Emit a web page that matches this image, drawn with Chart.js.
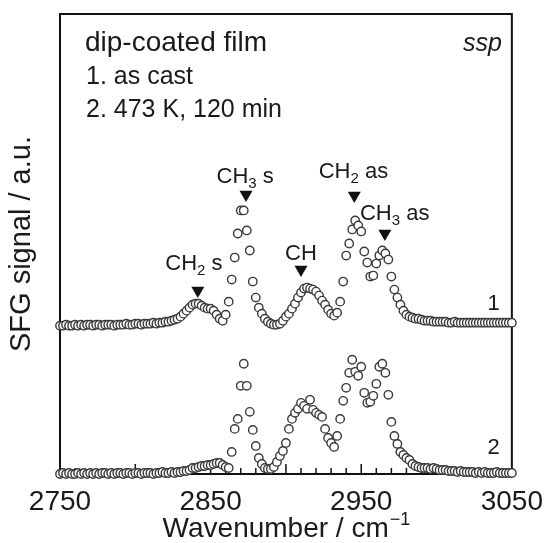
<!DOCTYPE html>
<html>
<head>
<meta charset="utf-8">
<script src="https://cdn.jsdelivr.net/npm/chart.js@4.4.1/dist/chart.umd.min.js"></script>
<style>
  html, body { margin: 0; padding: 0; background: #fff; }
</style>
</head>
<body>
<canvas id="sfg" width="554" height="543"></canvas>
<script>
// wavenumber grid (cm-1)
const wavenumbers = [
  2750, 2752, 2754, 2756, 2758, 2760, 2762, 2764, 2766, 2768,
  2770, 2772, 2774, 2776, 2778, 2780, 2782, 2784, 2786, 2788,
  2790, 2792, 2794, 2796, 2798, 2800, 2802, 2804, 2806, 2808,
  2810, 2812, 2814, 2816, 2818, 2820, 2822, 2824, 2826, 2828,
  2830, 2832, 2834, 2836, 2838, 2840, 2842, 2844, 2846, 2848,
  2850, 2852, 2854, 2856, 2858, 2860, 2862, 2864, 2866, 2868,
  2870, 2872, 2874, 2876, 2878, 2880, 2882, 2884, 2886, 2888,
  2890, 2892, 2894, 2896, 2898, 2900, 2902, 2904, 2906, 2908,
  2910, 2912, 2914, 2916, 2918, 2920, 2922, 2924, 2926, 2928,
  2930, 2932, 2934, 2936, 2938, 2940, 2942, 2944, 2946, 2948,
  2950, 2952, 2954, 2956, 2958, 2960, 2962, 2964, 2966, 2968,
  2970, 2972, 2974, 2976, 2978, 2980, 2982, 2984, 2986, 2988,
  2990, 2992, 2994, 2996, 2998, 3000, 3002, 3004, 3006, 3008,
  3010, 3012, 3014, 3016, 3018, 3020, 3022, 3024, 3026, 3028,
  3030, 3032, 3034, 3036, 3038, 3040, 3042, 3044, 3046, 3048,
  3050
];

// 1. as cast
const signalAsCast = [
  0, 0, 1, 0, 0, 1, 0, 1, 0, 1,
  1, 0, 1, 1, 0, 1, 1, 1, 0, 1,
  1, 1, 2, 1, 1, 2, 2, 1, 2, 2,
  2, 3, 2, 3, 3, 4, 4, 5, 6, 7,
  9, 12, 15, 18, 21, 22, 22, 20, 18, 17,
  17, 15, 11, 7, 5, 11, 24, 46, 68, 92,
  115, 115, 95, 75, 44, 28, 18, 12, 7, 4,
  2, 1, 1, 2, 5, 9, 12, 17, 22, 28,
  33, 37, 38, 37, 36, 34, 30, 25, 21, 16,
  12, 10, 13, 24, 44, 70, 82, 96, 105, 100,
  94, 74, 63, 49, 50, 62, 70, 75, 72, 66,
  49, 36, 28, 21, 15, 11, 9, 8, 7, 7,
  6, 5, 5, 5, 4, 4, 4, 4, 4, 3,
  3, 4, 3, 3, 3, 3, 3, 3, 3, 3,
  3, 3, 3, 3, 3, 3, 3, 3, 3, 3,
  3
];

// 2. 473 K, 120 min
const signalAnnealed = [
  0, 1, 0, 1, 0, 0, 1, 0, 1, 0,
  1, 0, 1, 0, 1, 1, 0, 1, 0, 1,
  1, 0, 1, 1, 0, 1, 1, 0, 1, 1,
  1, 0, 1, 1, 2, 1, 1, 2, 1, 2,
  2, 3, 3, 4, 6, 6, 7, 8, 8, 9,
  9, 10, 11, 11, 9, 7, 6, 22, 45, 55,
  88, 110, 88, 62, 44, 28, 16, 10, 6, 5,
  5, 7, 12, 18, 23, 31, 45, 55, 61, 65,
  71, 68, 65, 74, 64, 61, 59, 57, 45, 36,
  31, 27, 38, 55, 73, 86, 101, 114, 102, 98,
  107, 81, 71, 72, 78, 90, 107, 110, 101, 79,
  52, 38, 30, 22, 19, 16, 14, 10, 8, 7,
  6, 6, 6, 5, 6, 5, 4, 4, 4, 3,
  3, 3, 2, 3, 2, 2, 2, 2, 1, 2,
  1, 2, 1, 1, 1, 2, 1, 1, 1, 1,
  1
];

const offsetAsCast = 148;
const xTickLabels = [2750, 2850, 2950, 3050];

// band assignments
const bandMain = ['CH', 'CH', 'CH', 'CH', 'CH'];
const bandSub = ['2', '3', '', '2', '3'];
const bandTail = [' s', ' s', '', ' as', ' as'];
const bandWave = [2841.5, 2873.5, 2910, 2945.4, 2965.7];
const bandMarkY = [183, 279, 204, 278, 240];
const bandTextWave = [2838.9, 2872.9, 2910, 2944.8, 2972.2];
const bandTextY = [204, 290, 214, 295, 253];

const curveNames = ['1', '2'];
const curveNameWave = 3042;
const curveNameY = [164, 20];

const FONT = '"Liberation Sans", Arial, sans-serif';
const INK = '#1a1a1a';

const decor = {
  id: 'decor',
  beforeDatasetsDraw(chart) {
    const { ctx, chartArea: a, scales: { x } } = chart;
    ctx.save();
    ctx.strokeStyle = '#111';
    ctx.lineWidth = 2;
    ctx.strokeRect(a.left, a.top, a.right - a.left, a.bottom - a.top);
    // inward ticks: major every 50, minor every 10
    ctx.lineWidth = 1.5;
    for (let v = 2760; v < 3050; v += 10) {
      const px = x.getPixelForValue(v);
      const len = v % 50 === 0 ? 10 : 6;
      ctx.beginPath();
      ctx.moveTo(px, a.bottom);
      ctx.lineTo(px, a.bottom - len);
      ctx.stroke();
    }
    ctx.restore();
  },
  afterDatasetsDraw(chart) {
    const { ctx, chartArea: a, scales: { x, y } } = chart;
    ctx.save();
    ctx.fillStyle = INK;
    ctx.textBaseline = 'alphabetic';

    // band labels with subscripts
    for (let i = 0; i < bandMain.length; i++) {
      const cx = x.getPixelForValue(bandTextWave[i]);
      const by = y.getPixelForValue(bandTextY[i]);
      ctx.font = '22px ' + FONT;
      const w1 = ctx.measureText(bandMain[i]).width;
      const w3 = ctx.measureText(bandTail[i]).width;
      ctx.font = '15px ' + FONT;
      const w2 = bandSub[i] ? ctx.measureText(bandSub[i]).width : 0;
      let px = cx - (w1 + w2 + w3) / 2;
      ctx.textAlign = 'left';
      ctx.font = '22px ' + FONT;
      ctx.fillText(bandMain[i], px, by);
      px += w1;
      if (bandSub[i]) {
        ctx.font = '15px ' + FONT;
        ctx.fillText(bandSub[i], px, by + 5);
        px += w2;
      }
      ctx.font = '22px ' + FONT;
      ctx.fillText(bandTail[i], px, by);
    }

    // curve numbers
    ctx.font = '22px ' + FONT;
    ctx.textAlign = 'right';
    curveNames.forEach((n, i) => {
      ctx.fillText(n, x.getPixelForValue(curveNameWave), y.getPixelForValue(curveNameY[i]));
    });

    // header text
    ctx.textAlign = 'left';
    ctx.font = '28px ' + FONT;
    ctx.fillText('dip-coated film', a.left + 25, a.top + 37);
    ctx.font = '25px ' + FONT;
    ctx.fillText('1. as cast', a.left + 26, a.top + 70);
    ctx.fillText('2. 473 K, 120 min', a.left + 26, a.top + 103);
    ctx.textAlign = 'right';
    ctx.font = 'italic 25px ' + FONT;
    ctx.fillText('ssp', a.right - 10, a.top + 37);

    // x title with superscript
    ctx.textAlign = 'left';
    ctx.font = '28px ' + FONT;
    const t1 = 'Wavenumber / cm';
    const wt1 = ctx.measureText(t1).width;
    ctx.font = '18px ' + FONT;
    const t2 = '\u22121';
    const wt2 = ctx.measureText(t2).width;
    let tx = (a.left + a.right) / 2 - (wt1 + wt2) / 2;
    ctx.font = '28px ' + FONT;
    ctx.fillText(t1, tx, 537);
    ctx.font = '18px ' + FONT;
    ctx.fillText(t2, tx + wt1 + 1, 525);

    // y title
    ctx.translate(22, (a.top + a.bottom) / 2);
    ctx.rotate(-Math.PI / 2);
    ctx.textAlign = 'center';
    ctx.textBaseline = 'middle';
    ctx.font = '29px ' + FONT;
    ctx.fillText('SFG signal / a.u.', 0, 0);
    ctx.restore();
  }
};

const circleStyle = {
  showLine: false,
  clip: false,
  pointRadius: 4.2,
  pointBorderWidth: 1.4,
  pointBorderColor: '#3a3a3a',
  pointBackgroundColor: '#fff'
};

new Chart(document.getElementById('sfg'), {
  type: 'scatter',
  data: {
    datasets: [
      {
        label: 'bands',
        data: bandWave.map((w, i) => ({ x: w, y: bandMarkY[i] })),
        pointStyle: 'triangle',
        rotation: 180,
        pointRadius: 7.5,
        pointBorderWidth: 0,
        pointBackgroundColor: '#111',
        pointBorderColor: '#111',
        clip: false
      },
      Object.assign({
        label: '1. as cast',
        data: wavenumbers.map((w, i) => ({ x: w, y: signalAsCast[i] + offsetAsCast }))
      }, circleStyle),
      Object.assign({
        label: '2. 473 K, 120 min',
        data: wavenumbers.map((w, i) => ({ x: w, y: signalAnnealed[i] }))
      }, circleStyle)
    ]
  },
  options: {
    responsive: false,
    animation: false,
    devicePixelRatio: 1,
    layout: { padding: { left: 60, right: 35, top: 14, bottom: 0 } },
    plugins: { legend: { display: false }, tooltip: { enabled: false } },
    scales: {
      x: {
        type: 'linear',
        min: 2750,
        max: 3050,
        afterBuildTicks: s => { s.ticks = xTickLabels.map(v => ({ value: v })); },
        afterFit: s => { s.height = 69; },
        grid: { display: false, drawTicks: false },
        border: { display: false },
        ticks: {
          autoSkip: false,
          maxRotation: 0,
          padding: 11,
          color: INK,
          font: { family: FONT, size: 28 },
          callback: v => String(v)
        }
      },
      y: { display: false, min: 0, max: 459 }
    }
  },
  plugins: [decor]
});
</script>
</body>
</html>
